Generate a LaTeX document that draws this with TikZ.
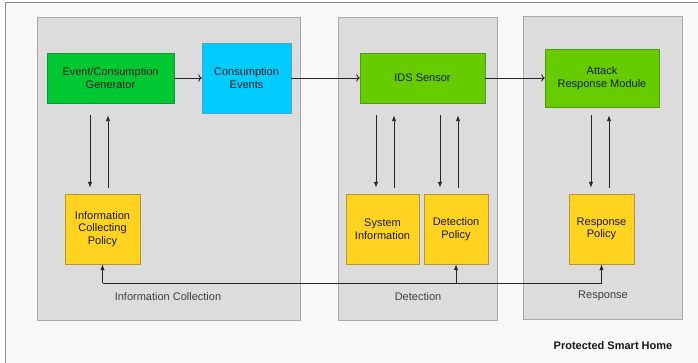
\documentclass[tikz,border=0pt]{standalone}
\usepackage{fontspec}
\setmainfont{Liberation Sans}
\usetikzlibrary{arrows.meta}

\definecolor{genfill}{HTML}{00C832}
\definecolor{genline}{HTML}{10962E}
\definecolor{consfill}{HTML}{00CCFF}
\definecolor{consline}{HTML}{4AA6C4}
\definecolor{idsfill}{HTML}{66CC00}
\definecolor{idsline}{HTML}{4E9A10}
\definecolor{polfill}{HTML}{FFD320}
\definecolor{polline}{HTML}{B8962E}
\definecolor{panelfill}{HTML}{DCDCDC}
\definecolor{panelline}{HTML}{AAAAAA}
\definecolor{homefill}{HTML}{F8F8F8}
\definecolor{homeline}{HTML}{8A8A8A}

\begin{document}
\begin{tikzpicture}
	[x=1pt, y=-1pt,
	txt/.style={font=\fontsize{11}{12.7}\selectfont, align=center, text=black!90},
	box/.style={txt, draw, rectangle, inner sep=0pt},
	genbox/.style={box, fill=genfill, draw=genline},
	consbox/.style={box, fill=consfill, draw=consline},
	idsbox/.style={box, fill=idsfill, draw=idsline},
	polbox/.style={box, fill=polfill, draw=polline, minimum height=70},
	panel/.style={draw=panelline, fill=panelfill, rectangle, inner sep=0pt},
	caption/.style={txt, text=black!75},
	flow/.style={draw=black!85, line width=0.9pt, -{Latex[length=6pt,width=4.5pt]}}]
	\useasboundingbox (0,0) rectangle (698,363);
	\fill[white] (0,0) rectangle (698,363);
	\clip (0,0) rectangle (698,363);
	\draw[homeline, fill=homefill, line width=1pt] (5,3) rectangle (720,380);

	% the three stages
	\node (infocol) [panel, minimum width=263, minimum height=303] at (168.5,168.5) {};
	\node (detect) [panel, minimum width=159, minimum height=303] at (417.5,168.5) {};
	\node (respond) [panel, minimum width=159, minimum height=303] at (602.5,167.5) {};

	\node (gen) [genbox, minimum width=127, minimum height=50] at (110.5,78) {Event/Consumption\\Generator};
	\node (cons) [consbox, minimum width=89, minimum height=70] at (246.5,78) {Consumption\\Events}
		edge [flow, <-] (gen);
	\node (ids) [idsbox, minimum width=125, minimum height=50] at (422.5,78) {IDS Sensor}
		edge [flow, <-] (cons);
	\node (arm) [idsbox, minimum width=114, minimum height=58] at (602,78) {Attack\\Response Module}
		edge [flow, <-] (ids);

	\node (icp) [polbox, minimum width=75] at (102.5,229) {Information\\Collecting\\Policy};
	\node (sysinfo) [polbox, minimum width=73] at (382.5,229) {System\\Information};
	\node (detpol) [polbox, minimum width=64] at (456,229) {Detection\\Policy};
	\node (resppol) [polbox, minimum width=65] at (601.5,229) {Response\\Policy};

	% requests and answers
	\draw[flow, shorten <=12pt, shorten >=6pt] ([xshift=-12.5]icp.north |- gen.south) -- ([xshift=-12.5]icp.north);
	\draw[flow, shorten <=6pt, shorten >=12pt] ([xshift=5.5]icp.north) -- ([xshift=5.5]icp.north |- gen.south);
	\draw[flow, shorten <=12pt, shorten >=6pt] ([xshift=-6.5]sysinfo.north |- ids.south) -- ([xshift=-6.5]sysinfo.north);
	\draw[flow, shorten <=6pt, shorten >=12pt] ([xshift=11.5]sysinfo.north) -- ([xshift=11.5]sysinfo.north |- ids.south);
	\draw[flow, shorten <=12pt, shorten >=6pt] ([xshift=-16]detpol.north |- ids.south) -- ([xshift=-16]detpol.north);
	\draw[flow, shorten <=6pt, shorten >=12pt] ([xshift=2]detpol.north) -- ([xshift=2]detpol.north |- ids.south);
	\draw[flow, shorten <=8pt, shorten >=6pt] ([xshift=-10.5]resppol.north |- arm.south) -- ([xshift=-10.5]resppol.north);
	\draw[flow, shorten <=6pt, shorten >=8pt] ([xshift=7.5]resppol.north) -- ([xshift=7.5]resppol.north |- arm.south);

	% policy updates
	\coordinate (bus) at (0,283);
	\draw[draw=black!85, line width=0.9pt] (icp.south |- bus) -- (resppol.south |- bus);
	\draw[flow] (icp.south |- bus) -- (icp.south);
	\draw[flow] (detpol.south |- bus) -- (detpol.south);
	\draw[flow] (resppol.south |- bus) -- (resppol.south);

	\node (infocap) [caption] at (168,297) {Information Collection};
	\node (detcap) [caption] at (418,297) {Detection};
	\node (respcap) [caption] at (603,296) {Response};
	\node (home) [txt, font=\fontsize{11}{12.7}\selectfont\bfseries] at (613,346) {Protected Smart Home};
\end{tikzpicture}
\end{document}
